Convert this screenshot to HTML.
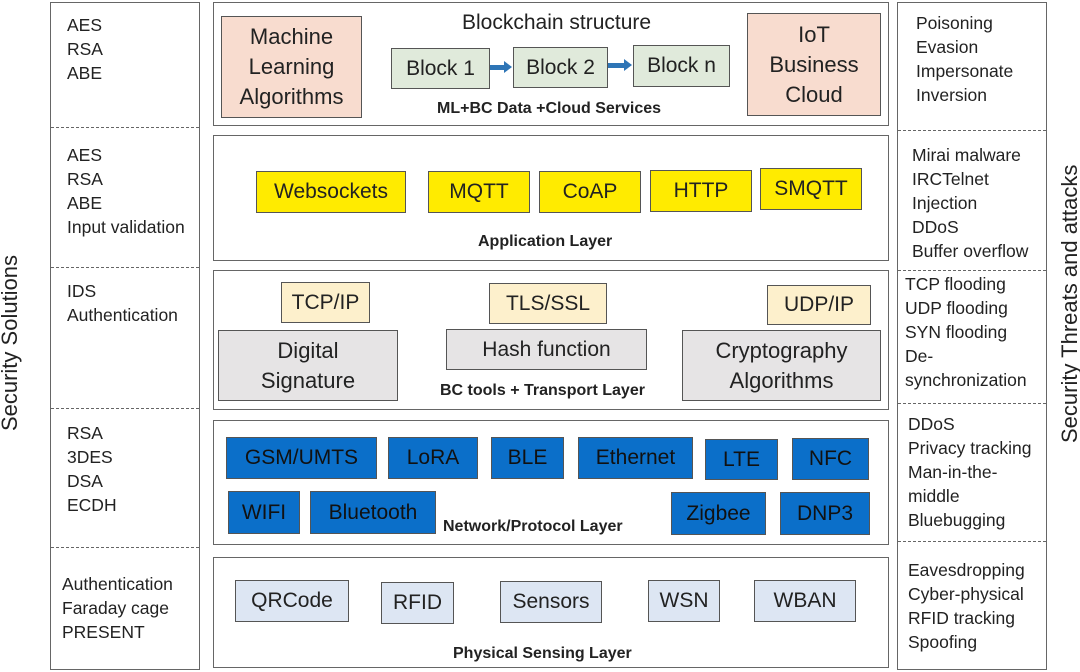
<!DOCTYPE html>
<html><head><meta charset="utf-8"><style>
*{margin:0;padding:0;box-sizing:border-box}
body{width:1080px;height:672px;background:#fff;position:relative;overflow:hidden;font-family:"Liberation Sans",sans-serif;color:#222}
.a{position:absolute}
.L{position:absolute;border:1.5px solid #666;background:#fff}
.b{position:absolute;border:1.5px solid #555;display:flex;align-items:center;justify-content:center;text-align:center;font-size:21px;line-height:30px;white-space:nowrap}
.pk{background:#f8dccf}
.gr{background:#e0eadb}
.ye{background:#ffeb00}
.cr{background:#fdf0cc}
.gy{background:#e6e4e5}
.bl{background:#0b6fc9;color:#111}
.lb{background:#dde6f3}
.t{position:absolute;font-size:17.5px;line-height:24px;white-space:nowrap}
.bt{position:absolute;font-size:16px;font-weight:bold;white-space:nowrap}
.d{position:absolute;border-top:1.5px dashed #666;height:0}
.v{position:absolute;font-size:22px;white-space:nowrap;transform:rotate(-90deg);transform-origin:center}
</style></head><body>
<div class="L" style="left:50px;top:2px;width:150px;height:668px"></div>
<div class="L" style="left:897px;top:2px;width:150px;height:668px"></div>
<div class="d" style="left:51px;width:148px;top:127px"></div>
<div class="d" style="left:51px;width:148px;top:267px"></div>
<div class="d" style="left:51px;width:148px;top:408px"></div>
<div class="d" style="left:51px;width:148px;top:547px"></div>
<div class="d" style="left:898px;width:148px;top:130px"></div>
<div class="d" style="left:898px;width:148px;top:270px"></div>
<div class="d" style="left:898px;width:148px;top:403px"></div>
<div class="d" style="left:898px;width:148px;top:541px"></div>

<div class="v" style="left:-90px;top:330px;width:200px;text-align:center">Security Solutions</div>
<div class="v" style="left:940px;top:300px;width:260px;text-align:center">Security Threats and attacks</div>

<div class="t" style="left:67px;top:13px">AES<br>RSA<br>ABE</div>
<div class="t" style="left:67px;top:143px">AES<br>RSA<br>ABE<br>Input validation</div>
<div class="t" style="left:67px;top:279px">IDS<br>Authentication</div>
<div class="t" style="left:67px;top:421px">RSA<br>3DES<br>DSA<br>ECDH</div>
<div class="t" style="left:62px;top:572px">Authentication<br>Faraday cage<br>PRESENT</div>

<div class="t" style="left:916px;top:11px">Poisoning<br>Evasion<br>Impersonate<br>Inversion</div>
<div class="t" style="left:912px;top:143px">Mirai malware<br>IRCTelnet<br>Injection<br>DDoS<br>Buffer overflow</div>
<div class="t" style="left:905px;top:272px">TCP flooding<br>UDP flooding<br>SYN flooding<br>De-<br>synchronization</div>
<div class="t" style="left:908px;top:412px">DDoS<br>Privacy tracking<br>Man-in-the-<br>middle<br>Bluebugging</div>
<div class="t" style="left:908px;top:558px">Eavesdropping<br>Cyber-physical<br>RFID tracking<br>Spoofing</div>

<!-- Layer 1 -->
<div class="L" style="left:213px;top:2px;width:676px;height:124px"></div>
<div class="b pk" style="left:221px;top:16px;width:141px;height:102px;font-size:22px">Machine<br>Learning<br>Algorithms</div>
<div class="a" style="left:462px;top:11px;font-size:21px">Blockchain structure</div>
<div class="b gr" style="left:391px;top:48px;width:99px;height:41px">Block 1</div>
<div class="b gr" style="left:513px;top:47px;width:95px;height:41px">Block 2</div>
<div class="b gr" style="left:633px;top:45px;width:97px;height:42px">Block n</div>
<div class="a" style="left:490px;top:65px;width:16px;height:5px;background:#2e75b6"></div>
<div class="a" style="left:504px;top:61px;border-left:8px solid #2e75b6;border-top:6px solid transparent;border-bottom:6px solid transparent"></div>
<div class="a" style="left:608px;top:63px;width:18px;height:5px;background:#2e75b6"></div>
<div class="a" style="left:624px;top:59px;border-left:8px solid #2e75b6;border-top:6px solid transparent;border-bottom:6px solid transparent"></div>
<div class="bt" style="left:437px;top:100px">ML+BC Data +Cloud Services</div>
<div class="b pk" style="left:747px;top:13px;width:134px;height:103px;font-size:22px">IoT<br>Business<br>Cloud</div>

<!-- Layer 2 -->
<div class="L" style="left:213px;top:135px;width:676px;height:126px"></div>
<div class="b ye" style="left:256px;top:171px;width:150px;height:42px">Websockets</div>
<div class="b ye" style="left:428px;top:171px;width:102px;height:42px">MQTT</div>
<div class="b ye" style="left:539px;top:171px;width:102px;height:42px">CoAP</div>
<div class="b ye" style="left:650px;top:170px;width:102px;height:42px">HTTP</div>
<div class="b ye" style="left:760px;top:168px;width:102px;height:42px">SMQTT</div>
<div class="bt" style="left:478px;top:233px">Application Layer</div>

<!-- Layer 3 -->
<div class="L" style="left:213px;top:270px;width:676px;height:140px"></div>
<div class="b cr" style="left:281px;top:282px;width:89px;height:41px">TCP/IP</div>
<div class="b cr" style="left:489px;top:283px;width:118px;height:41px">TLS/SSL</div>
<div class="b cr" style="left:767px;top:285px;width:104px;height:40px">UDP/IP</div>
<div class="b gy" style="left:218px;top:330px;width:180px;height:71px;font-size:22px">Digital<br>Signature</div>
<div class="b gy" style="left:446px;top:329px;width:201px;height:41px">Hash function</div>
<div class="b gy" style="left:682px;top:330px;width:199px;height:71px;font-size:22px">Cryptography<br>Algorithms</div>
<div class="bt" style="left:440px;top:382px">BC tools + Transport Layer</div>

<!-- Layer 4 -->
<div class="L" style="left:213px;top:420px;width:676px;height:125px"></div>
<div class="b bl" style="left:226px;top:437px;width:151px;height:42px">GSM/UMTS</div>
<div class="b bl" style="left:388px;top:437px;width:90px;height:42px">LoRA</div>
<div class="b bl" style="left:491px;top:437px;width:73px;height:42px">BLE</div>
<div class="b bl" style="left:578px;top:437px;width:115px;height:42px">Ethernet</div>
<div class="b bl" style="left:705px;top:439px;width:73px;height:41px">LTE</div>
<div class="b bl" style="left:792px;top:438px;width:77px;height:42px">NFC</div>
<div class="b bl" style="left:228px;top:491px;width:72px;height:43px">WIFI</div>
<div class="b bl" style="left:310px;top:491px;width:126px;height:43px">Bluetooth</div>
<div class="b bl" style="left:671px;top:492px;width:95px;height:43px">Zigbee</div>
<div class="b bl" style="left:780px;top:492px;width:90px;height:43px">DNP3</div>
<div class="bt" style="left:443px;top:518px">Network/Protocol Layer</div>

<!-- Layer 5 -->
<div class="L" style="left:213px;top:557px;width:676px;height:111px"></div>
<div class="b lb" style="left:235px;top:580px;width:114px;height:42px">QRCode</div>
<div class="b lb" style="left:381px;top:582px;width:73px;height:42px">RFID</div>
<div class="b lb" style="left:500px;top:581px;width:102px;height:42px">Sensors</div>
<div class="b lb" style="left:648px;top:580px;width:72px;height:42px">WSN</div>
<div class="b lb" style="left:754px;top:580px;width:102px;height:42px">WBAN</div>
<div class="bt" style="left:453px;top:645px">Physical Sensing Layer</div>
</body></html>
